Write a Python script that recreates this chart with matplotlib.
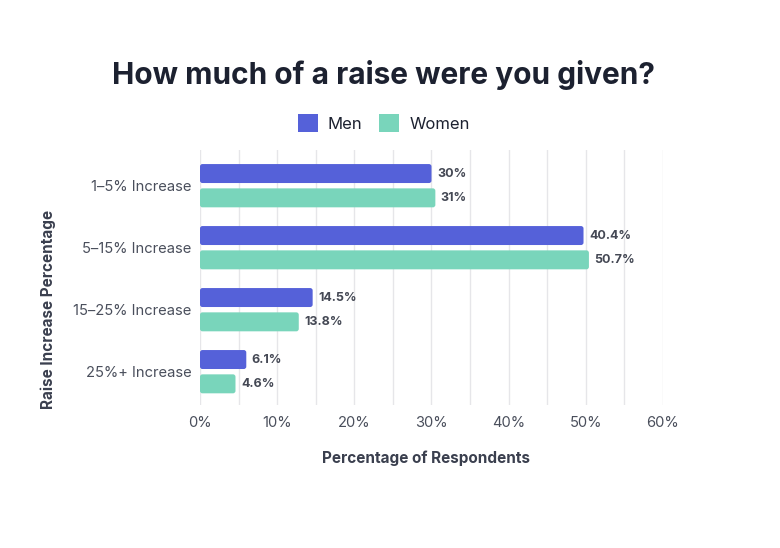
"""Raise size by gender: grouped horizontal bar chart."""
import matplotlib
matplotlib.use("Agg")
import matplotlib.pyplot as plt
from matplotlib.patches import FancyBboxPatch, Patch
import numpy as np

plt.rcParams['font.family'] = ['Inter', 'DejaVu Sans']

categories = ['1–5% Increase', '5–15% Increase', '15–25% Increase', '25%+ Increase']
# bar lengths as drawn in the picture
men_values = [30.0, 49.7, 14.6, 6.0]
women_values = [30.5, 50.4, 12.8, 4.6]
# label texts as printed next to the bars
men_labels = ['30%', '40.4%', '14.5%', '6.1%']
women_labels = ['31%', '50.7%', '13.8%', '4.6%']
x_ticks = [0, 10, 20, 30, 40, 50, 60]

MEN_COLOR = '#5561d9'
WOMEN_COLOR = '#79d5bb'
TEXT_DARK = '#1c2130'
TEXT_GRAY = '#4a4f5c'

fig = plt.figure(figsize=(7.8, 5.48), dpi=100)
ax = fig.add_axes([0.2564, 0.261, 0.8500 - 0.2564, 0.7263 - 0.261])

y = np.arange(len(categories))
offset = 0.196
height = 0.306

ax.set_xlim(0, 60)
ax.set_ylim(len(categories) - 1 + 0.537, -0.576)

# pixels per data unit, for round corners that stay circular
px_x = 463 / 60
px_y = 255 / (len(categories) - 1 + 0.537 + 0.576)
radius = 2.5 / px_x

men_bars = ax.barh(y - offset, men_values, height=height, color=MEN_COLOR,
                   zorder=3)
women_bars = ax.barh(y + offset, women_values, height=height, color=WOMEN_COLOR,
                     zorder=3)

for bars, texts, color in ((men_bars, men_labels, MEN_COLOR),
                           (women_bars, women_labels, WOMEN_COLOR)):
    for bar, txt in zip(bars, texts):
        bar.set_visible(False)
        ax.add_patch(FancyBboxPatch(
            (bar.get_x(), bar.get_y()), bar.get_width(), bar.get_height(),
            boxstyle=f'round,pad=0,rounding_size={radius}',
            mutation_aspect=px_x / px_y, facecolor=color, edgecolor='none',
            zorder=3))
        ax.text(bar.get_width() + 0.7, bar.get_y() + bar.get_height() / 2, txt,
                va='center', ha='left', fontsize=9, fontweight='bold',
                color='#444854', zorder=4)

ax.set_xticks(x_ticks)
ax.set_xticklabels([f'{t}%' for t in x_ticks])
ax.set_xticks(np.arange(0, 61, 5), minor=True)
ax.set_yticks(y)
ax.set_yticklabels(categories)

ax.grid(axis='x', which='both', color='#e6e6e9', linewidth=1, zorder=0)
ax.grid(axis='y', visible=False)
for spine in ax.spines.values():
    spine.set_visible(False)
ax.tick_params(axis='both', which='both', length=0, labelsize=10.6,
               labelcolor=TEXT_GRAY)
ax.tick_params(axis='x', pad=8)
ax.tick_params(axis='y', pad=6)

fig.text(0.492, 1 - 75 / 548, 'How much of a raise were you given?',
         ha='center', va='center', fontsize=21.5, fontweight='bold',
         color=TEXT_DARK)

handles = [Patch(facecolor=MEN_COLOR), Patch(facecolor=WOMEN_COLOR)]
fig.legend(handles=handles, labels=['Men', 'Women'],
           loc='center', bbox_to_anchor=(0.492, 1 - 123 / 548), ncol=2,
           frameon=False, fontsize=12, handlelength=1.2, handleheight=1.2,
           handletextpad=0.6, columnspacing=1.0, labelcolor=TEXT_DARK)

fig.text(426 / 780, 1 - 458 / 548, 'Percentage of Respondents',
         ha='center', va='center', fontsize=11, fontweight='bold',
         color='#3a3f4e')
fig.text(48 / 780, 1 - 309 / 548, 'Raise Increase Percentage',
         ha='center', va='center', rotation=90, fontsize=11,
         fontweight='bold', color='#3a3f4e')

fig.savefig('out.png', dpi=100, facecolor='white')
